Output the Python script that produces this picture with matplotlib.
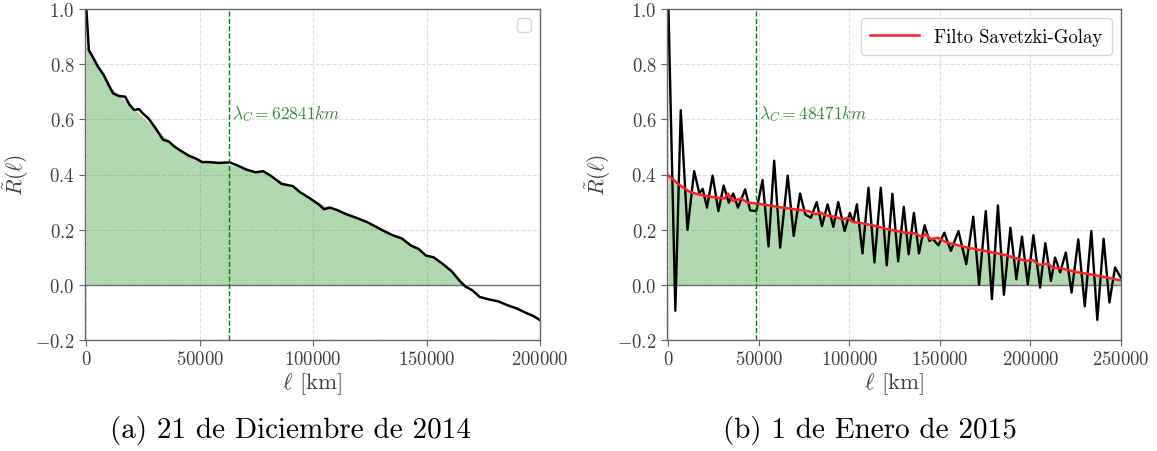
import matplotlib
matplotlib.use("Agg")
import matplotlib.pyplot as plt

plt.rcParams['font.family'] = ['cmr10', 'DejaVu Serif']
plt.rcParams['mathtext.fontset'] = 'cm'
plt.rcParams['axes.formatter.use_mathtext'] = True
plt.rcParams['axes.unicode_minus'] = True

# ---------------- Panel (a): 21 de Diciembre de 2014 ----------------
a_x = [0, 1100, 2000, 3600, 5200, 7700, 10100, 11800, 14200, 17100, 19100, 21100,
       23200, 24800, 27300, 30500, 33800, 36300, 38700, 42000, 45200, 48500, 51000,
       54200, 58300, 63200, 66500, 70500, 74600, 77900, 81200, 86100, 91000, 94200,
       99200, 102400, 104800, 107300, 110600, 114600, 118700, 123600, 126900, 131000,
       135000, 139100, 143200, 146500, 149700, 153000, 157100, 161200, 164400, 166900,
       170200, 173400, 177500, 181600, 185700, 189800, 193900, 197100, 200000]
a_r = [1.0, 0.85, 0.838, 0.814, 0.79, 0.76, 0.72, 0.694, 0.685, 0.682, 0.652, 0.634,
       0.637, 0.622, 0.604, 0.568, 0.526, 0.52, 0.502, 0.484, 0.468, 0.457, 0.445,
       0.445, 0.442, 0.444, 0.433, 0.418, 0.408, 0.412, 0.396, 0.366, 0.358, 0.336,
       0.31, 0.292, 0.274, 0.28, 0.271, 0.256, 0.244, 0.228, 0.214, 0.196,
       0.18, 0.168, 0.142, 0.13, 0.106, 0.1, 0.076, 0.048, 0.016, -0.005,
       -0.02, -0.044, -0.053, -0.06, -0.074, -0.086, -0.102, -0.113, -0.128]
a_sg_x = [0, 4400, 10900, 20000, 30000, 40000, 50000, 60000, 70000, 80000, 90000,
          100000, 110000, 120000, 130000, 140000, 150000, 160000, 167500]
a_sg = [0.868, 0.80, 0.715, 0.645, 0.57, 0.495, 0.452, 0.443, 0.42, 0.402, 0.355,
        0.305, 0.273, 0.237, 0.2, 0.16, 0.11, 0.058, 0.0]
a_lambda = 62841

# ---------------- Panel (b): 1 de Enero de 2015 ----------------
b_x = [0, 3800, 6800, 10500, 14200, 17100, 18900, 21300, 24400, 27600, 30500, 33300,
       35800, 38400, 42400, 45100, 48500, 52000, 55300, 58400, 61700, 65900, 69200,
       72700, 75600, 78700, 81900, 84800, 87900, 91100, 93800, 97300, 100200, 102100,
       104100, 107200, 110500, 113800, 117300, 120600, 123700, 126900, 130000, 132700,
       135600, 138400, 141500, 144200, 146000, 149100, 152400, 156000, 160200, 164500,
       168400, 171600, 175300, 178700, 182000, 185300, 188900, 192200, 195300, 198500,
       201600, 205300, 208200, 211300, 213600, 216400, 219500, 222700, 226400, 230000,
       233600, 236900, 240400, 243600, 246700, 250000]
b_r = [1.0, -0.094, 0.633, 0.199, 0.412, 0.331, 0.348, 0.28, 0.396, 0.267, 0.36, 0.298,
       0.331, 0.28, 0.346, 0.27, 0.267, 0.38, 0.139, 0.45, 0.135, 0.396, 0.177,
       0.331, 0.255, 0.243, 0.30, 0.213, 0.292, 0.21, 0.30, 0.195, 0.261, 0.228,
       0.292, 0.114, 0.352, 0.081, 0.352, 0.071, 0.33, 0.085, 0.283, 0.111,
       0.261, 0.114, 0.216, 0.159, 0.167, 0.143, 0.189, 0.123, 0.195, 0.075,
       0.247, 0.001, 0.267, -0.052, 0.288, -0.036, 0.207, 0.02, 0.175, 0.002,
       0.18, -0.01, 0.151, 0.014, 0.099, 0.045, 0.117, -0.028, 0.165, -0.078,
       0.195, -0.127, 0.167, -0.064, 0.063, 0.025]
b_sg_x = [0, 6500, 12000, 19300, 26600, 31100, 32900, 35600, 40200, 43800, 48500,
          55600, 62900, 70500, 77800, 81500, 84000, 87000, 91600, 96200, 99000, 101700,
          107200, 114600, 121500, 130500, 136000, 139600, 142400, 145100, 148700,
          153300, 157800, 165100, 172400, 179600, 186900, 190400, 197600, 201300,
          204900, 209500, 212200, 217600, 224900, 232200, 239500, 250000]
b_sg = [0.396, 0.36, 0.336, 0.324, 0.316, 0.313, 0.331, 0.304, 0.313, 0.298, 0.295,
        0.288, 0.28, 0.273, 0.267, 0.255, 0.262, 0.252, 0.247, 0.237, 0.243, 0.228,
        0.223, 0.213, 0.201, 0.189, 0.187, 0.175, 0.183, 0.165, 0.171,
        0.155, 0.147, 0.135, 0.126, 0.117, 0.107, 0.099, 0.087, 0.09,
        0.072, 0.077, 0.063, 0.059, 0.047, 0.039, 0.03, 0.016]
b_lambda = 48471

legend_label = "Filto Savetzki-Golay"
captions = ["(a) 21 de Diciembre de 2014", "(b) 1 de Enero de 2015"]

W, H = 1157, 452
fig = plt.figure(figsize=(W / 100, H / 100), dpi=100)
ax1 = fig.add_axes([85 / W, 1 - 341 / H, 455 / W, 331 / H])
ax2 = fig.add_axes([667 / W, 1 - 341 / H, 454 / W, 331 / H])

txtcol = '#404040'

def style(ax, xmax, xmin):
    ax.set_xlim(xmin, xmax)
    ax.set_ylim(-0.2, 1.0)
    ax.set_yticks([-0.2, 0.0, 0.2, 0.4, 0.6, 0.8, 1.0])
    ax.set_xticks(list(range(0, xmax + 1, 50000)))
    ax.grid(True, linestyle='--', color='#cccccc', alpha=0.6, linewidth=0.8)
    ax.set_axisbelow(True)
    for s in ax.spines.values():
        s.set_color('#666666')
        s.set_linewidth(1.0)
    ax.tick_params(labelsize=13.5, colors=txtcol, length=4, color='#666666')
    ax.axhline(0, color='#555555', linewidth=1.0, alpha=0.8)
    ax.set_xlabel(r'$\ell$ [km]', fontsize=16.5, color=txtcol, labelpad=1)
    ax.set_ylabel(r'$\tilde{R}(\ell)$', fontsize=15.5, color=txtcol)
    ax.yaxis.set_label_coords(-0.118, 0.5)

# Panel a
style(ax1, 200000, -600)
ax1.fill_between(a_sg_x, a_sg, 0, color='green', alpha=0.3, linewidth=0)
ax1.plot(a_x, a_r, color='black', linewidth=1.8, solid_joinstyle='round')
ax1.axvline(a_lambda, color='green', linestyle='--', linewidth=1.0)
ax1.text(a_lambda + 1500, 0.585, r'$\lambda_C = %dkm$' % a_lambda, color='#3a8a3a',
         fontsize=12.5, va='bottom', ha='left')
ax1.legend(handles=[], loc='upper right', frameon=True, fontsize=13)

# Panel b
style(ax2, 250000, -800)
ax2.fill_between(b_sg_x, b_sg, 0, color='green', alpha=0.3, linewidth=0)
ax2.plot(b_x, b_r, color='black', linewidth=1.7, solid_joinstyle='round')
ax2.plot(b_sg_x, b_sg, color='#ff2020', linewidth=1.8, label=legend_label,
         solid_joinstyle='round')
ax2.axvline(b_lambda, color='green', linestyle='--', linewidth=1.0)
ax2.text(b_lambda + 1800, 0.585, r'$\lambda_C = %dkm$' % b_lambda, color='#3a8a3a',
         fontsize=12.5, va='bottom', ha='left')
ax2.legend(loc='upper right', fontsize=13.5, handlelength=2.6, borderpad=0.5)

fig.text(290 / W, 1 - 431 / H, captions[0], fontsize=21, ha='center', va='center')
fig.text(870 / W, 1 - 431 / H, captions[1], fontsize=21, ha='center', va='center')

fig.savefig('out.png', dpi=100)
